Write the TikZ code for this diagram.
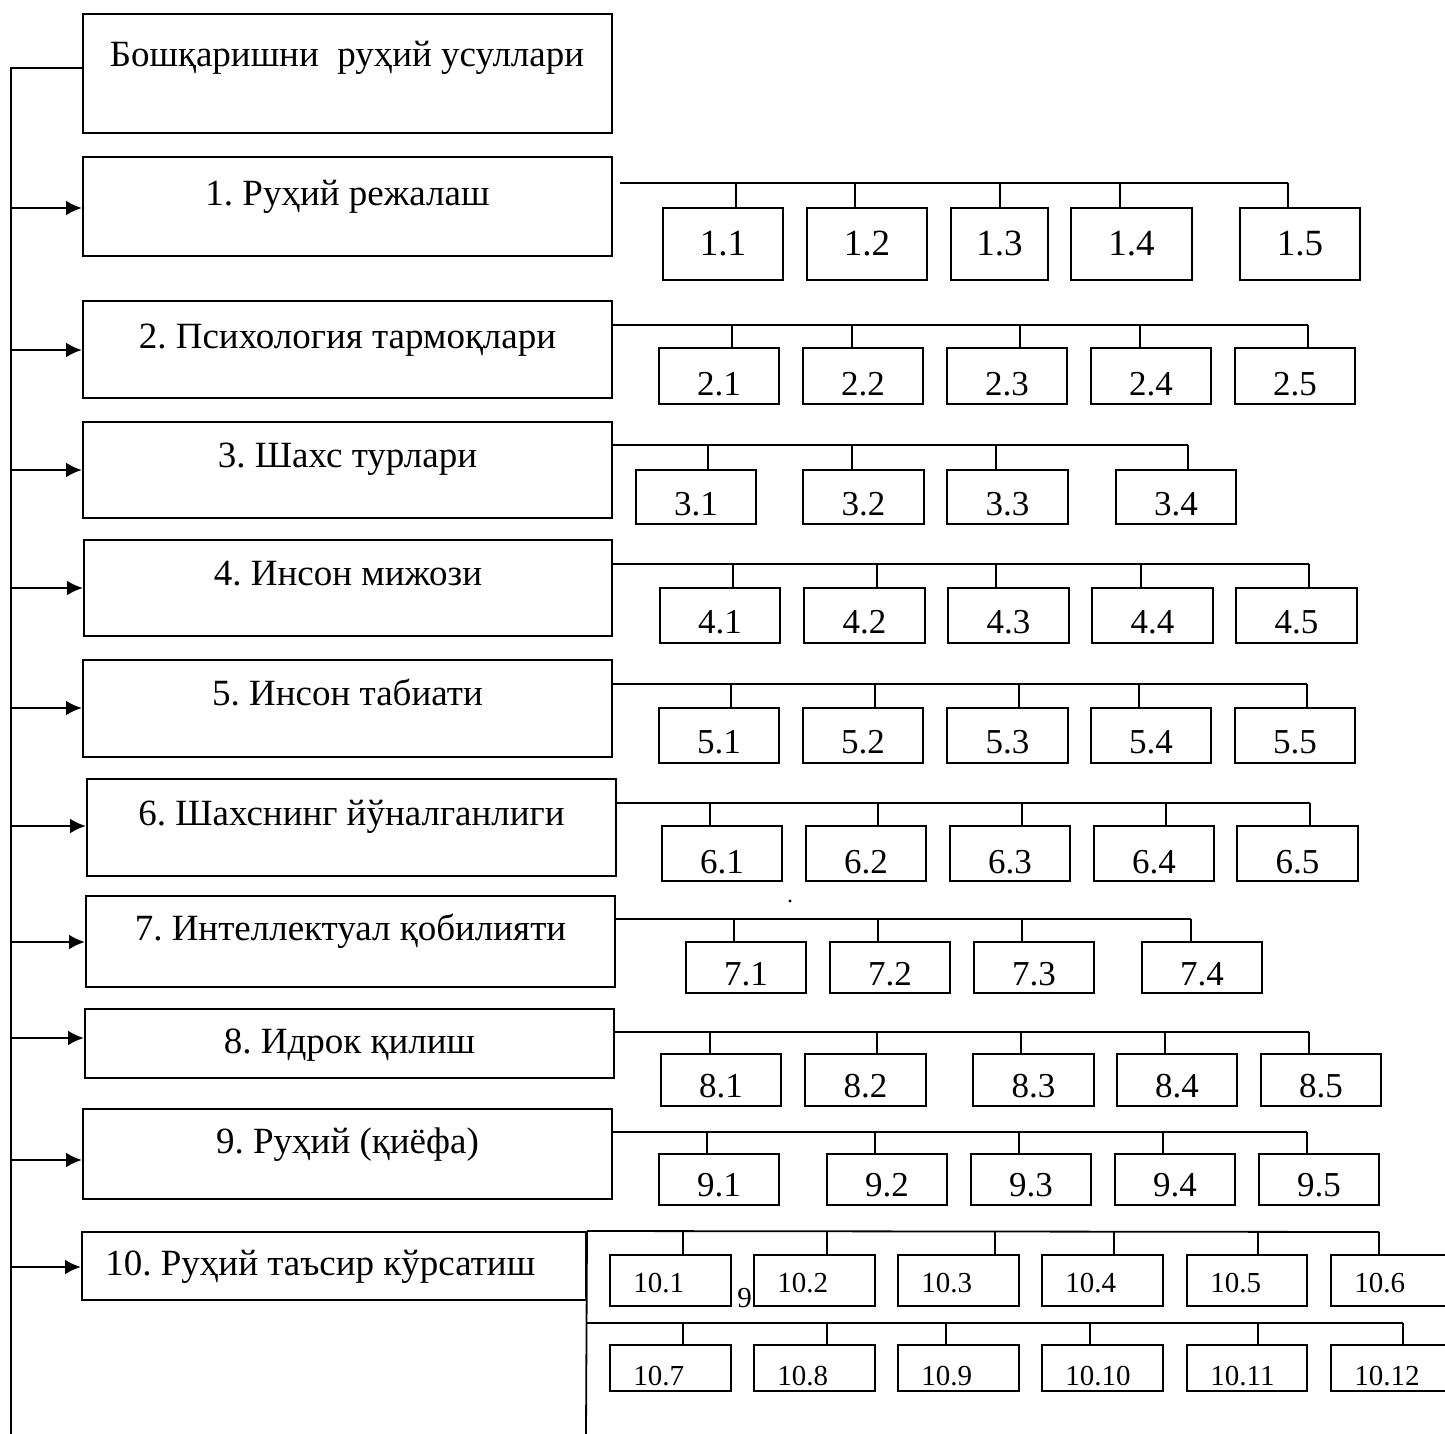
\documentclass[tikz,border=0pt]{standalone}
\usepackage{fontspec}
\setmainfont{Liberation Serif}
\usetikzlibrary{arrows.meta,fit}
\frenchspacing

\tikzset{
  mainbox/.style={draw, line width=1pt, inner sep=0pt},
  maintext/.style={font=\fontsize{18.5}{22}\selectfont, inner sep=0pt},
  subbox/.style={draw, line width=0.9pt, inner sep=0pt},
  subtext/.style={font=\fontsize{17.5}{20}\selectfont, inner sep=0pt},
  smalltext/.style={font=\fontsize{14.5}{17}\selectfont, inner sep=0pt},
  wire/.style={line width=0.9pt},
  feed/.style={line width=1.3pt, -{Latex[length=8pt,width=7.5pt]}},
}

% #1 row, #2 bus y, #3 bus start, #4 bus end, #5 top, #6 bottom, #7 text baseline, #8 text options, #9 boxes
\newcommand{\subrow}[9]{%
  \coordinate (bs#1) at (#3,#2);
  \coordinate (be#1) at (#4,#2);
  \draw[wire] (bs#1) -- (be#1);
  \foreach \j/\xl/\xr/\dx in {#9} {
    \node[subbox, fit={(\xl,#5) (\xr,#6)}] (s#1-\j) {};
    \node[subtext, #8, anchor=base] (l#1-\j) at ({(\xl+\xr)/2},#7) {#1.\j};
    \coordinate (d#1-\j) at (\dx,#2);
    \draw[wire] (d#1-\j) -- (d#1-\j |- s#1-\j.north);
  }
}

\begin{document}
\begin{tikzpicture}[x=0.5pt,y=-0.5pt]
    \useasboundingbox (0,0) rectangle (1445,1434);

    % head box and the spine
    \node[mainbox, fit={(83,14) (612,133)}] (b0) {};
    \node[maintext, anchor=base] (t0) at (347,67) {Бошқаришни\ \ руҳий усуллари};
    \coordinate (sp-top) at (11,68);
    \coordinate (sp-bot) at (11,1434);
    \draw[wire] (sp-top -| b0.west) -- (sp-top) -- (sp-bot);

    % method boxes 1..9
    \foreach \n/\xl/\xr/\yt/\yb/\tb/\ay/\txt in {
        1/83/612/157/256/205/208/1. Руҳий режалаш,
        2/83/612/301/398/348/350/2. Психология тармоқлари,
        3/83/612/422/518/467/470/3. Шахс турлари,
        4/84/612/540/636/585/588/4. Инсон мижози,
        5/83/612/660/757/705/708/5. Инсон табиати,
        6/87/616/779/876/825/826/6. Шахснинг йўналганлиги,
        7/86/615/896/987/940/942/7. Интеллектуал қобилияти,
        8/85/614/1009/1078/1053/1038/8. Идрок қилиш,
        9/83/612/1109/1199/1153/1160/9. Руҳий (қиёфа)} {
        \node[mainbox, fit={(\xl,\yt) (\xr,\yb)}] (b\n) {};
        \node[maintext, anchor=base] (t\n) at ({(\xl+\xr)/2},\tb) {\txt};
        \coordinate (a\n) at (11,\ay);
        \draw[feed] (a\n) -- (a\n -| b\n.west);
    }

    % sub boxes
    \subrow{1}{183}{620}{1288}{208}{280}{255}{font=\fontsize{18.5}{22}\selectfont}{1/663/783/736, 2/807/927/855, 3/951/1048/1000, 4/1071/1192/1120, 5/1240/1360/1288}
    \subrow{2}{325}{612}{1308}{348}{404}{395}{}{1/659/779/732, 2/803/923/852, 3/947/1067/1020, 4/1091/1211/1140, 5/1235/1355/1308}
    \subrow{3}{445}{612}{1188}{470}{524}{515}{}{1/636/756/708, 2/803/924/852, 3/947/1068/996, 4/1116/1236/1188}
    \subrow{4}{564}{612}{1309}{588}{643}{633}{}{1/660/780/733, 2/804/925/877, 3/948/1069/996, 4/1092/1213/1141, 5/1236/1357/1309}
    \subrow{5}{684}{612}{1307}{708}{763}{753}{}{1/659/779/731, 2/803/923/875, 3/947/1068/1019, 4/1091/1211/1139, 5/1235/1355/1307}
    \subrow{6}{803}{616}{1310}{826}{881}{873}{}{1/662/782/710, 2/806/926/878, 3/950/1070/1022, 4/1094/1214/1166, 5/1237/1358/1310}
    \subrow{7}{919}{615}{1191}{942}{993}{985}{}{1/686/806/734, 2/830/950/878, 3/974/1094/1022, 4/1142/1262/1191}
    \subrow{8}{1032}{614}{1309}{1054}{1106}{1097}{}{1/661/781/710, 2/805/926/877, 3/973/1094/1021, 4/1117/1237/1165, 5/1261/1381/1309}
    \subrow{9}{1132}{612}{1307}{1154}{1205}{1196}{}{1/659/779/707, 2/827/947/875, 3/971/1091/1019, 4/1115/1235/1163, 5/1259/1379/1307}

    % box 10 with two rows
    \node[mainbox, fit={(82,1232) (586,1300)}] (b10) {};
    \node[maintext, anchor=base west] (t10) at (105,1275) {10. Руҳий таъсир кўрсатиш};
    \coordinate (a10) at (11,1267);
    \draw[feed] (a10) -- (a10 -| b10.west);
    \coordinate (be10a) at (1379,1232);
    \coordinate (bs10b) at (586,1323);
    \coordinate (be10b) at (1403,1323);
    \coordinate (b10-bot) at (586,1434);
    \draw[wire] (b10.north east) -- (be10a);
    \draw[wire] (b10.north east) -- (b10-bot);
    \draw[wire] (bs10b) -- (be10b);
    \foreach \j/\xl/\xr/\dx in {1/610/731/683, 2/754/875/827, 3/898/1019/995, 4/1042/1163/1114, 5/1187/1307/1258, 6/1331/1452/1379} {
        \node[subbox, fit={(\xl,1255) (\xr,1306)}] (s10-\j) {};
        \node[smalltext, anchor=base west] (l10-\j) at ({\xl+23},1292) {10.\j};
        \coordinate (d10-\j) at (\dx,1232);
        \draw[wire] (d10-\j) -- (d10-\j |- s10-\j.north);
    }
    \foreach \j/\k/\xl/\xr/\dx in {1/7/610/731/683, 2/8/754/875/827, 3/9/898/1019/946, 4/10/1042/1163/1090, 5/11/1187/1307/1258, 6/12/1331/1452/1403} {
        \node[subbox, fit={(\xl,1345) (\xr,1391)}] (s10-\k) {};
        \node[smalltext, anchor=base west] (l10-\k) at ({\xl+23},1385) {10.\k};
        \coordinate (d10-\k) at (\dx,1323);
        \draw[wire] (d10-\k) -- (d10-\k |- s10-\k.north);
    }
    \node[smalltext, anchor=base west] (stray) at (737,1307) {9};

    \fill (790,901) circle (0.8pt);
\end{tikzpicture}
\end{document}
